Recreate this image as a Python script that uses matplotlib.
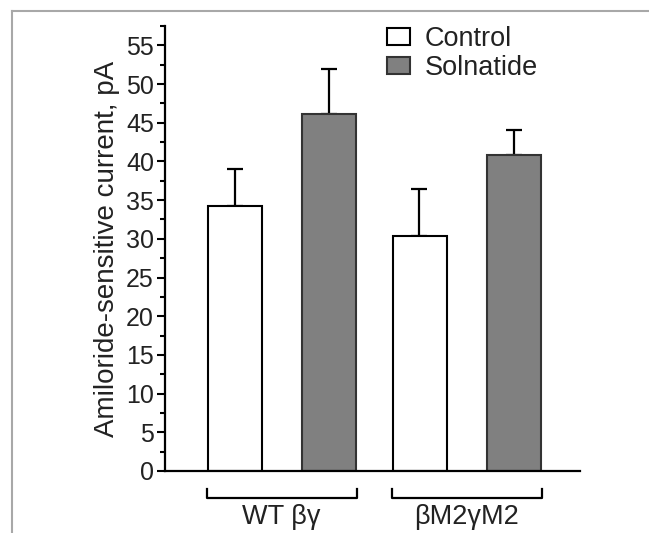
import numpy as np
import matplotlib
matplotlib.use('Agg')
import matplotlib.pyplot as plt
from matplotlib.lines import Line2D
from matplotlib.patches import Patch

plt.rcParams['font.family'] = ['Liberation Sans', 'DejaVu Sans']

groups = ['WT βγ', 'βM2γM2']
series = ['Control', 'Solnatide']
control = [34.3, 30.4]
control_err = [4.7, 6.1]
solnatide = [46.1, 40.8]
solnatide_err = [5.9, 3.3]

centers = np.array([2.33, 6.03])
off = 0.94
w = 1.08

fig = plt.figure(figsize=(6.49, 5.33), dpi=100)
ax = fig.add_axes([165/649, 62/533, 415/649, 445/533])

ax.bar(centers - off, control, w, color='white', edgecolor='black', linewidth=1.5, zorder=2)
ax.bar(centers + off, solnatide, w, color='#808080', edgecolor='#333333', linewidth=1.5, zorder=2)
ax.errorbar(centers - off, control, yerr=[np.zeros(2), control_err], fmt='none',
            ecolor='black', elinewidth=1.6, capsize=6, capthick=1.6, zorder=1)
ax.errorbar(centers + off, solnatide, yerr=[np.zeros(2), solnatide_err], fmt='none',
            ecolor='black', elinewidth=1.6, capsize=6, capthick=1.6, zorder=1)

ax.set_xlim(0, 8.3)
ax.set_ylim(0, 57.5)
ax.set_yticks(np.arange(0, 56, 5))
ax.set_yticks(np.arange(2.5, 58, 5), minor=True)
ax.set_xticks([])
for s in ['top', 'right']:
    ax.spines[s].set_visible(False)
for s in ['left', 'bottom']:
    ax.spines[s].set_linewidth(1.6)
ax.tick_params(axis='y', which='major', length=6, width=1.5, labelsize=18, colors='black', labelcolor='#222222', pad=2)
ax.tick_params(axis='y', which='minor', length=3.5, width=1.5)
ax.set_ylabel('Amiloride-sensitive current, pA', fontsize=20, color='#222222', labelpad=4)

# group brackets under the axis
tr = ax.get_xaxis_transform()
for c, g in zip(centers, groups):
    x0, x1 = c - 1.5, c + 1.5
    ax.plot([x0, x0, x1, x1], [-0.040, -0.061, -0.061, -0.040], color='black', lw=1.6,
            transform=tr, clip_on=False)
    ax.text(c, -0.103, g, transform=tr, ha='center', va='center', fontsize=19.5, color='#222222')

handles = [Patch(facecolor='white', edgecolor='black', linewidth=1.5),
           Patch(facecolor='#808080', edgecolor='#333333', linewidth=1.5)]
ax.legend(handles, series, loc='upper left', bbox_to_anchor=(0.535, 1.0), frameon=False,
          fontsize=19.5, handlelength=0.85, handleheight=0.6, handletextpad=0.55, labelspacing=0.1,
          borderpad=0, borderaxespad=0, labelcolor='#222222')

# grey frame from the source figure
fig.add_artist(Line2D([11.5/649, 11.5/649], [0, 1 - 10.5/533], color='#a8a8a8', lw=1.5))
fig.add_artist(Line2D([11.5/649, 1], [1 - 10.5/533, 1 - 10.5/533], color='#a8a8a8', lw=1.5))

fig.savefig('out.png', dpi=100)
